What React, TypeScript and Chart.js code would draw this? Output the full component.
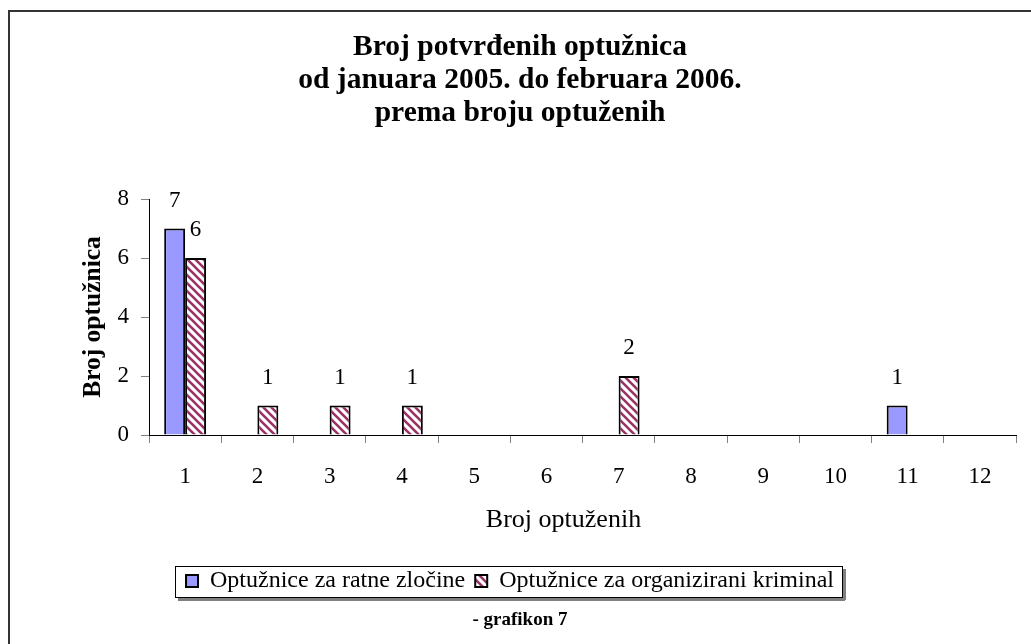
import React, { useEffect, useRef } from 'react';
import { Chart, registerables } from 'chart.js';

Chart.register(...registerables);

const categories = ['1', '2', '3', '4', '5', '6', '7', '8', '9', '10', '11', '12'];
const warCrimes = [7, 0, 0, 0, 0, 0, 0, 0, 0, 0, 1, 0];
const organizedCrime = [6, 1, 1, 1, 0, 0, 2, 0, 0, 0, 0, 0];
const seriesNames = ['Optužnice za ratne zločine', 'Optužnice za organizirani kriminal'];
const titleLines = ['Broj potvrđenih optužnica', 'od januara 2005. do februara 2006.', 'prema broju optuženih'];
const xAxisTitle = 'Broj optuženih';
const yAxisTitle = 'Broj optužnica';
const footerText = '- grafikon 7';
const yMin = 0;
const yMax = 8;
const yStep = 2;

const FONT = '"Liberation Serif", "Times New Roman", serif';

function makeHatch(): CanvasPattern | string {
  const c = document.createElement('canvas');
  c.width = 8;
  c.height = 8;
  const g = c.getContext('2d');
  if (!g) return '#993366';
  g.fillStyle = '#ffffff';
  g.fillRect(0, 0, 8, 8);
  g.strokeStyle = '#993366';
  g.lineWidth = 2.6;
  g.beginPath();
  g.moveTo(-2, -2);
  g.lineTo(10, 10);
  g.moveTo(-2, 6);
  g.lineTo(2, 10);
  g.moveTo(6, -2);
  g.lineTo(10, 2);
  g.stroke();
  return g.createPattern(c, 'repeat') || '#993366';
}

const dataLabels = {
  id: 'dataLabels',
  afterDatasetsDraw(chart: any) {
    const ctx = chart.ctx;
    ctx.save();
    ctx.font = `23px ${FONT}`;
    ctx.fillStyle = '#000';
    ctx.textAlign = 'center';
    ctx.textBaseline = 'middle';
    chart.data.datasets.forEach((ds: any, i: number) => {
      const meta = chart.getDatasetMeta(i);
      meta.data.forEach((bar: any, j: number) => {
        const v = ds.data[j];
        if (v == null) return;
        ctx.fillText(String(v), bar.x, bar.y - 28);
      });
    });
    ctx.restore();
  },
};

const xTitlePlugin = {
  id: 'xTitle',
  afterDraw(chart: any) {
    const xs = chart.scales.x;
    const ctx = chart.ctx;
    ctx.save();
    ctx.font = `26px ${FONT}`;
    ctx.fillStyle = '#000';
    ctx.textAlign = 'center';
    ctx.textBaseline = 'middle';
    ctx.fillText(xAxisTitle, (xs.left + xs.right) / 2 - 19, xs.bottom - 39);
    ctx.restore();
  },
};

const LEGEND_SHIFT = -10;

const legendFrame = {
  id: 'legendFrame',
  afterUpdate(chart: any) {
    const lg = chart.legend;
    if (!lg) return;
    lg.left += LEGEND_SHIFT;
    lg.right += LEGEND_SHIFT;
    (lg.legendHitBoxes || []).forEach((h: any) => {
      h.left += LEGEND_SHIFT;
    });
  },
  afterDraw(chart: any) {
    const lg = chart.legend;
    if (!lg || !lg.legendHitBoxes || !lg.legendHitBoxes.length) return;
    const boxes = lg.legendHitBoxes;
    let l = Infinity, r = -Infinity, t = Infinity, b = -Infinity;
    boxes.forEach((h: any) => {
      l = Math.min(l, h.left);
      r = Math.max(r, h.left + h.width);
      t = Math.min(t, h.top);
      b = Math.max(b, h.top + h.height);
    });
    const x0 = l - 11, x1 = r + 8, y0 = t - 3, y1 = b + 4;
    const ctx = chart.ctx;
    ctx.save();
    ctx.fillStyle = '#808080';
    ctx.fillRect(Math.round(x0) + 3, Math.round(y1) + 1, Math.round(x1 - x0), 3);
    ctx.fillRect(Math.round(x1) + 1, Math.round(y0) + 3, 3, Math.round(y1 - y0));
    ctx.strokeStyle = '#000';
    ctx.lineWidth = 1;
    ctx.strokeRect(Math.round(x0) + 0.5, Math.round(y0) + 0.5, Math.round(x1 - x0), Math.round(y1 - y0));
    ctx.restore();
  },
};

export default function App() {
  const ref = useRef<HTMLCanvasElement | null>(null);

  useEffect(() => {
    if (!ref.current) return;
    const hatch = makeHatch();
    const chart = new Chart(ref.current, {
      type: 'bar',
      data: {
        labels: categories,
        datasets: [
          {
            label: seriesNames[0],
            data: warCrimes.map((v) => (v === 0 ? null : v)),
            backgroundColor: '#9999FF',
            borderColor: '#000000',
            borderWidth: 2,
            categoryPercentage: 0.58,
            barPercentage: 1,
          },
          {
            label: seriesNames[1],
            data: organizedCrime.map((v) => (v === 0 ? null : v)),
            backgroundColor: hatch as any,
            borderColor: '#000000',
            borderWidth: 2,
            categoryPercentage: 0.58,
            barPercentage: 1,
          },
        ],
      },
      options: {
        responsive: false,
        animation: false,
        layout: { padding: { left: 24, right: 15, top: 31, bottom: 12 } },
        plugins: {
          title: {
            display: true,
            text: titleLines,
            color: '#000',
            font: { family: FONT, size: 29.5, weight: 'bold', lineHeight: 33 / 29.5 },
            padding: { top: 0, bottom: 69 },
          },
          subtitle: {
            display: true,
            position: 'bottom',
            text: footerText,
            color: '#000',
            font: { family: FONT, size: 19, weight: 'bold', lineHeight: 24 / 19 },
            padding: { top: 5, bottom: 0 },
          },
          legend: {
            position: 'bottom',
            labels: {
              color: '#000',
              font: { family: FONT, size: 24 },
              boxWidth: 12,
              boxHeight: 12,
              padding: 10,
            },
          },
          tooltip: { enabled: false },
        },
        scales: {
          x: {
            grid: { drawOnChartArea: false, drawTicks: true, tickLength: 8, color: '#808080' },
            border: { color: '#000', width: 1 },
            ticks: { color: '#000', font: { family: FONT, size: 23 }, padding: 20 },
            title: { display: false, text: xAxisTitle },
            afterFit: (scale: any) => {
              scale.height = 124;
            },
          },
          y: {
            min: yMin,
            max: yMax,
            grid: { drawOnChartArea: false, drawTicks: true, tickLength: 8, color: '#808080' },
            border: { color: '#000', width: 1 },
            ticks: { stepSize: yStep, color: '#000', font: { family: FONT, size: 23 }, padding: 12 },
            title: {
              display: true,
              text: yAxisTitle,
              color: '#000',
              font: { family: FONT, size: 25.5, weight: 'bold' },
              padding: { top: 54, bottom: 0 },
            },
            afterFit: (scale: any) => {
              scale.width = 125;
            },
          },
        },
      },
      plugins: [dataLabels, xTitlePlugin, legendFrame],
    } as any);
    return () => chart.destroy();
  }, []);

  return (
    <div style={{ position: 'absolute', left: 0, top: 0, width: 1031, height: 644, background: '#fff', overflow: 'hidden' }}>
      <div
        style={{
          position: 'absolute',
          left: 8,
          top: 10,
          width: 1100,
          height: 700,
          borderTop: '2px solid #333',
          borderLeft: '2px solid #333',
        }}
      />
      <canvas ref={ref} width={1031} height={644} style={{ position: 'absolute', left: 0, top: 0 }} />
    </div>
  );
}
